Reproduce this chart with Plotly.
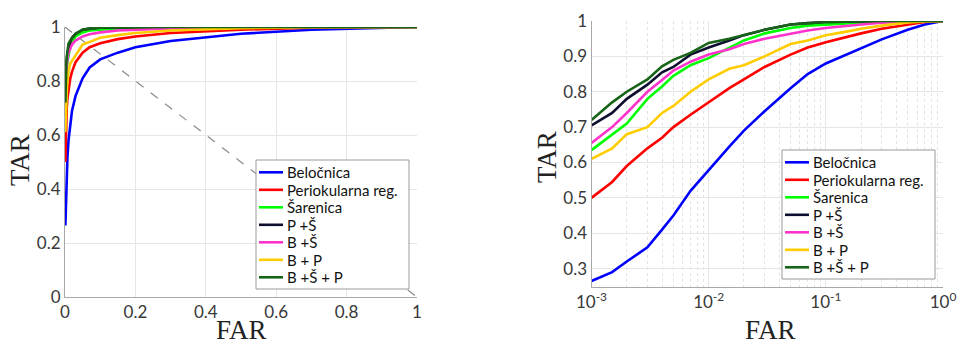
import plotly.graph_objects as go

# ---------------- data ----------------
far = [0.001, 0.0015, 0.002, 0.003, 0.004, 0.005, 0.007, 0.01, 0.015, 0.02,
       0.03, 0.05, 0.07, 0.1, 0.15, 0.2, 0.3, 0.5, 0.7, 1.0]

tar_beloc = [0.265, 0.29, 0.32, 0.36, 0.41, 0.45, 0.52, 0.58, 0.645, 0.69,
             0.745, 0.81, 0.85, 0.88, 0.905, 0.925, 0.948, 0.975, 0.99, 1.0]
tar_periok = [0.50, 0.545, 0.59, 0.64, 0.67, 0.70, 0.735, 0.77, 0.81, 0.835,
              0.87, 0.905, 0.925, 0.94, 0.955, 0.965, 0.978, 0.99, 0.997, 1.0]
tar_saren = [0.635, 0.68, 0.71, 0.78, 0.815, 0.845, 0.875, 0.895, 0.925, 0.945,
             0.965, 0.98, 0.987, 0.99, 0.995, 0.997, 0.999, 1.0, 1.0, 1.0]
tar_ps = [0.705, 0.74, 0.78, 0.82, 0.855, 0.87, 0.905, 0.925, 0.945, 0.96,
          0.975, 0.99, 0.994, 0.997, 0.998, 0.999, 1.0, 1.0, 1.0, 1.0]
tar_bs = [0.655, 0.70, 0.74, 0.80, 0.833, 0.86, 0.885, 0.905, 0.92, 0.935,
          0.95, 0.965, 0.973, 0.98, 0.987, 0.99, 0.995, 0.999, 1.0, 1.0]
tar_bp = [0.61, 0.64, 0.68, 0.70, 0.74, 0.76, 0.80, 0.835, 0.865, 0.875,
          0.90, 0.935, 0.945, 0.96, 0.97, 0.978, 0.987, 0.996, 0.999, 1.0]
tar_bsp = [0.72, 0.77, 0.80, 0.835, 0.872, 0.89, 0.91, 0.938, 0.95, 0.96,
           0.975, 0.99, 0.994, 0.997, 0.998, 0.999, 1.0, 1.0, 1.0, 1.0]

series_names = ["Beločnica", "Periokularna reg.", "Šarenica", "P +Š", "B +Š", "B + P", "B +Š + P"]
series_values = [tar_beloc, tar_periok, tar_saren, tar_ps, tar_bs, tar_bp, tar_bsp]
series_colors = ["#0000ff", "#ff0000", "#00ff00", "#0e0e30", "#ff33cc", "#ffcc00", "#176317"]

diag_x = [0, 1]
diag_y = [1, 0]

lin_ticks = [0, 0.2, 0.4, 0.6, 0.8, 1]
lin_ticktext = ["0", "0.2", "0.4", "0.6", "0.8", "1"]
log_ticks = [0.001, 0.01, 0.1, 1]
log_ticktext = ["10<sup>-3</sup>", "10<sup>-2</sup>", "10<sup>-1</sup>", "10<sup>0</sup>"]
log_yticks = [0.3, 0.4, 0.5, 0.6, 0.7, 0.8, 0.9, 1.0]
log_yticktext = ["0.3", "0.4", "0.5", "0.6", "0.7", "0.8", "0.9", "1"]

# ---------------- figure ----------------
W, H = 957, 343
fig = go.Figure()

fig.add_trace(go.Scatter(x=diag_x, y=diag_y, mode="lines", xaxis="x", yaxis="y",
                         line=dict(color="#8a8a8a", width=1.2, dash="dash"),
                         showlegend=False, hoverinfo="skip"))

for name, vals, col in zip(series_names, series_values, series_colors):
    fig.add_trace(go.Scatter(x=far, y=vals, mode="lines", name=name, xaxis="x", yaxis="y",
                             line=dict(color=col, width=2.6), showlegend=False))
for name, vals, col in zip(series_names, series_values, series_colors):
    fig.add_trace(go.Scatter(x=far, y=vals, mode="lines", name=name, xaxis="x2", yaxis="y2",
                             line=dict(color=col, width=2.6), showlegend=False))

tick_font = dict(family="Lato, 'DejaVu Sans', sans-serif", size=17, color="#383838")
grid_col = "#e6e6e6"
axis_col = "#a8a8a8"

common = dict(showline=True, linecolor=axis_col, linewidth=1, mirror=False,
              showgrid=True, gridcolor=grid_col, gridwidth=1, zeroline=False,
              ticks="", tickfont=tick_font, automargin=False, fixedrange=True)

fig.update_layout(
    width=W, height=H, autosize=False,
    margin=dict(l=0, r=0, t=0, b=0),
    paper_bgcolor="white", plot_bgcolor="white",
    showlegend=False,
    xaxis=dict(domain=[65 / W, 417 / W], range=[0, 1], anchor="y",
               tickmode="array", tickvals=lin_ticks, ticktext=lin_ticktext, **common),
    yaxis=dict(domain=[1 - 297 / H, 1 - 27 / H], range=[0, 1], anchor="x",
               tickmode="array", tickvals=lin_ticks, ticktext=lin_ticktext, **common),
    xaxis2=dict(domain=[591.5 / W, 943 / W], type="log", range=[-3, 0], anchor="y2",
                tickmode="array", tickvals=log_ticks, ticktext=log_ticktext,
                minor=dict(showgrid=True, gridcolor="#e2e2e2", griddash="dot", dtick="D1", ticks=""),
                **common),
    yaxis2=dict(domain=[1 - 287 / H, 1 - 21 / H], range=[0.248, 1], anchor="x2",
                tickmode="array", tickvals=log_yticks, ticktext=log_yticktext, **common),
)

# axis titles
title_font = dict(family="'Liberation Serif', 'Times New Roman', serif", size=27, color="#222222")
annots = [
    dict(text="FAR", x=241, y=330, textangle=0),
    dict(text="TAR", x=20, y=160, textangle=-90),
    dict(text="FAR", x=770, y=330, textangle=0),
    dict(text="TAR", x=547, y=157, textangle=-90),
]
for a in annots:
    fig.add_annotation(text=a["text"], x=a["x"] / W, y=1 - a["y"] / H, xref="paper", yref="paper",
                       xanchor="center", yanchor="middle", textangle=a["textangle"],
                       showarrow=False, font=title_font)

# legends (box + line samples + labels), positioned in page pixels
legend_boxes = [(256, 160, 409, 289), (782, 150, 935, 279)]
row_step = 17.5
leg_font = dict(family="Lato, 'DejaVu Sans', sans-serif", size=15, color="#111111")
for (x0, y0, x1, y1) in legend_boxes:
    fig.add_shape(type="rect", xref="paper", yref="paper",
                  x0=x0 / W, x1=x1 / W, y0=1 - y1 / H, y1=1 - y0 / H,
                  line=dict(color="#9a9a9a", width=1), fillcolor="white", layer="above")
    for i, (name, col) in enumerate(zip(series_names, series_colors)):
        yc = y0 + 12.3 + i * row_step
        fig.add_shape(type="line", xref="paper", yref="paper",
                      x0=(x0 + 3) / W, x1=(x0 + 27) / W, y0=1 - yc / H, y1=1 - yc / H,
                      line=dict(color=col, width=2.6), layer="above")
        fig.add_annotation(text=name, x=(x0 + 29) / W, y=1 - yc / H, xref="paper", yref="paper",
                           xanchor="left", yanchor="middle", showarrow=False, font=leg_font)

fig.write_html("out.html", config={"displayModeBar": False, "staticPlot": True},
               post_script="document.body.style.margin='0';")
